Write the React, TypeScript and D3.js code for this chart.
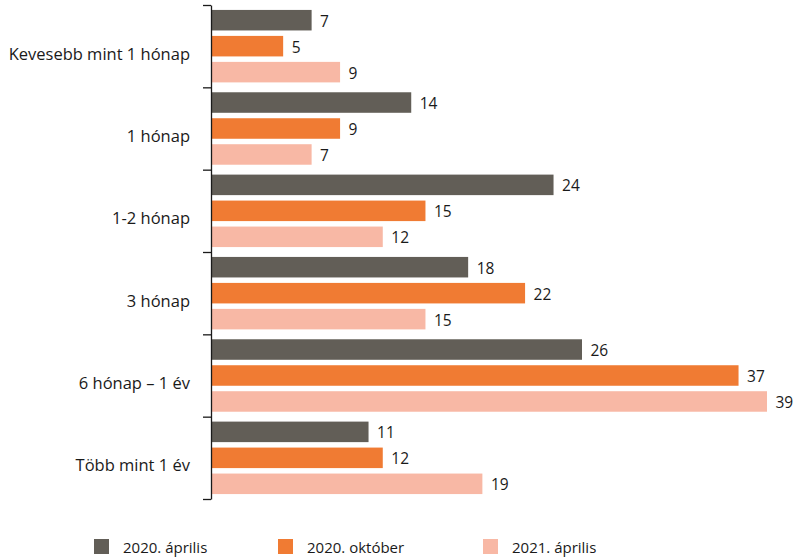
import React, { useEffect, useRef } from "react";
import * as d3 from "d3";

const categories = [
  "Kevesebb mint 1 hónap",
  "1 hónap",
  "1-2 hónap",
  "3 hónap",
  "6 hónap – 1 év",
  "Több mint 1 év",
];
const seriesNames = ["2020. április", "2020. október", "2021. április"];
const april2020 = [7, 14, 24, 18, 26, 11];
const october2020 = [5, 9, 15, 22, 37, 12];
const april2021 = [9, 7, 12, 15, 39, 19];
const colors = ["#625e57", "#f07b33", "#f8b8a5"];

const W = 793;
const H = 558;
const FONT = "'Open Sans', sans-serif";

export default function App() {
  const ref = useRef<SVGSVGElement>(null);

  useEffect(() => {
    const svg = d3.select(ref.current);
    svg.selectAll("*").remove();

    const series = [april2020, october2020, april2021];
    const x0 = 212;
    const x = d3.scaleLinear().domain([0, 39]).range([x0, 767]);
    const yTop = 5;
    const yBottom = 499;
    const y = d3.scaleBand().domain(categories).range([yTop, yBottom]).padding(0);
    const yIdx = d3.scaleLinear().domain([0, categories.length]).range([yTop, yBottom]);
    const inner = d3
      .scaleBand<number>()
      .domain([0, 1, 2])
      .range([0, y.bandwidth()])
      .paddingInner(0.21)
      .paddingOuter(0.19);

    // bars
    categories.forEach((cat, ci) => {
      const g = svg.append("g").attr("transform", `translate(0,${y(cat)})`);
      series.forEach((vals, si) => {
        const v = vals[ci];
        g.append("rect")
          .attr("x", x(0))
          .attr("y", inner(si)!)
          .attr("width", x(v) - x(0))
          .attr("height", inner.bandwidth())
          .attr("fill", colors[si]);
        g.append("text")
          .attr("x", x(v) + 8.5)
          .attr("y", inner(si)! + inner.bandwidth() / 2 + 0.5)
          .attr("dominant-baseline", "central")
          .attr("font-family", FONT)
          .attr("font-size", 15.5)
          .attr("fill", "#1a1a1a")
          .text(v);
      });
    });

    // axis with ticks at category boundaries
    const axis = svg
      .append("g")
      .attr("transform", `translate(${x0 - 1},0)`)
      .call(
        d3
          .axisLeft(yIdx)
          .ticks(categories.length)
          .tickSize(8)
          .tickSizeOuter(0)
          .tickFormat(() => "")
      );
    axis.select(".domain").attr("stroke", "#1a1a1a").attr("stroke-width", 1.3);
    axis.selectAll(".tick line").attr("stroke", "#1a1a1a").attr("stroke-width", 1.3);

    // category labels
    svg
      .append("g")
      .selectAll("text")
      .data(categories)
      .join("text")
      .attr("x", 190)
      .attr("y", (d) => y(d)! + y.bandwidth() / 2 + 7)
      .attr("dominant-baseline", "central")
      .attr("text-anchor", "end")
      .attr("font-family", FONT)
      .attr("font-size", 16.5)
      .attr("fill", "#1a1a1a")
      .text((d) => d);

    // legend
    const legendX = [94, 278, 483];
    const legend = svg
      .append("g")
      .selectAll("g")
      .data(seriesNames)
      .join("g")
      .attr("transform", (_, i) => `translate(${legendX[i]},539)`);
    legend
      .append("rect")
      .attr("width", 15)
      .attr("height", 15)
      .attr("fill", (_, i) => colors[i]);
    legend
      .append("text")
      .attr("x", 29)
      .attr("y", 7.5)
      .attr("dominant-baseline", "central")
      .attr("font-family", FONT)
      .attr("font-size", 15)
      .attr("fill", "#1a1a1a")
      .text((d) => d);
  }, []);

  return (
    <svg
      ref={ref}
      width={W}
      height={H}
      style={{ position: "absolute", left: 0, top: 0, background: "#fff" }}
    />
  );
}
